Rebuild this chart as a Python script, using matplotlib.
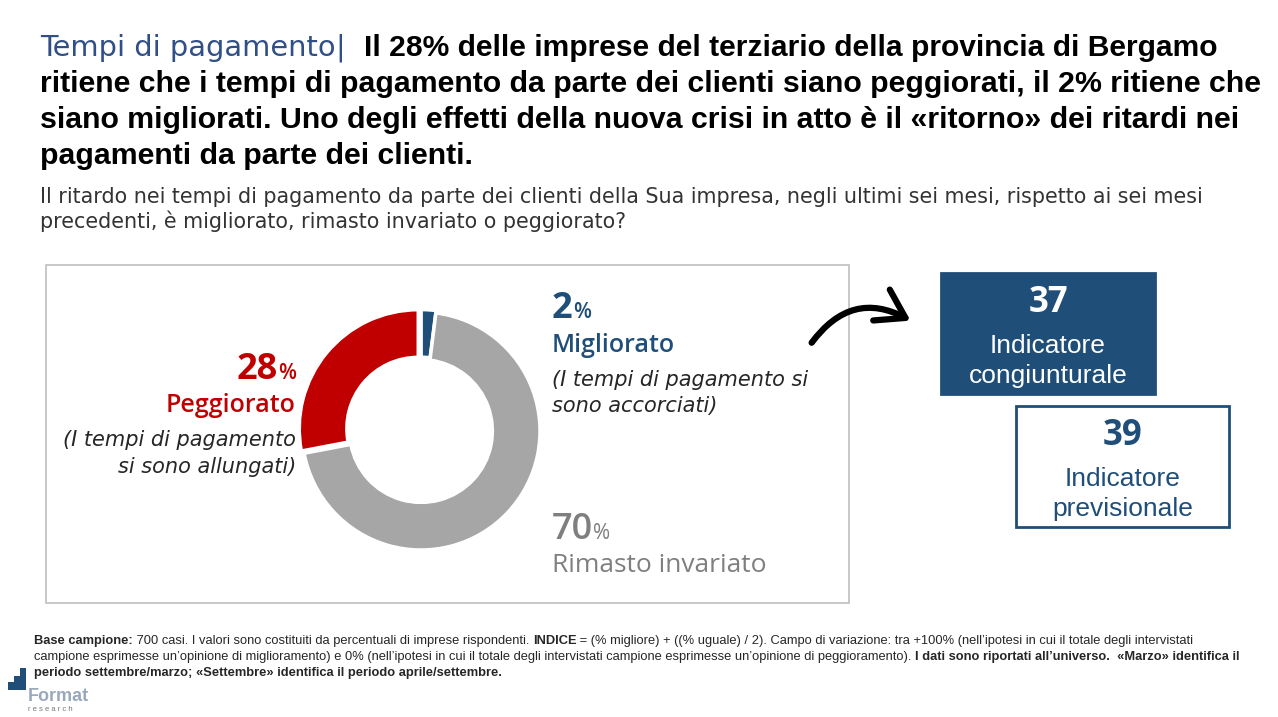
import matplotlib.pyplot as plt
from matplotlib.patches import Rectangle, FancyArrowPatch, Polygon

W, H = 1278, 717

# data
labels = ['Migliorato', 'Rimasto invariato', 'Peggiorato']
shares = [2, 70, 28]
colors = ['#1F4E79', '#A6A6A6', '#C00000']
indicators = [37, 39]
indicator_names = ['Indicatore\ncongiunturale', 'Indicatore\nprevisionale']

BLUE = '#1F4E79'
LAB = 'Open Sans'
plt.rcParams['font.family'] = ['Liberation Sans', 'DejaVu Sans']

fig = plt.figure(figsize=(W / 100, H / 100), dpi=100)
renderer = fig.canvas.get_renderer()


def fx(x):
    return x / W


def fy(y):
    return 1 - y / H


def runs(x, y, parts, **kw):
    # draw text pieces one after the other on the same baseline
    for txt, style in parts:
        opts = dict(kw)
        opts.update(style)
        t = fig.text(fx(x), fy(y), txt, va='baseline', ha='left', **opts)
        x += t.get_window_extent(renderer).width
    return x


# ---- title ----
runs(40, 56, [('Tempi di pagamento', dict(color='#2F4F86', family='DejaVu Sans', fontsize=20.8)),
              ('|  ', dict(color='#2F4F86', family='DejaVu Sans', fontsize=20.8)),
              ('Il 28% delle imprese del terziario della provincia di Bergamo',
               dict(color='black', weight='bold'))], fontsize=21.6)
for i, line in enumerate(['ritiene che i tempi di pagamento da parte dei clienti siano peggiorati, il 2% ritiene che',
                          'siano migliorati. Uno degli effetti della nuova crisi in atto è il «ritorno» dei ritardi nei',
                          'pagamenti da parte dei clienti.']):
    fig.text(fx(40), fy(92 + i * 36), line, fontsize=21.8, weight='bold', va='baseline')

fig.text(fx(40), fy(203), 'Il ritardo nei tempi di pagamento da parte dei clienti della Sua impresa, negli ultimi sei mesi, rispetto ai sei mesi',
         fontsize=14.9, color='#333333', va='baseline', family='DejaVu Sans')
fig.text(fx(40), fy(228), 'precedenti, è migliorato, rimasto invariato o peggiorato?',
         fontsize=14.9, color='#333333', va='baseline', family='DejaVu Sans')

# ---- frame around the donut ----
fig.add_artist(Rectangle((fx(46), fy(603)), fx(849 - 46), (603 - 265) / H,
                         transform=fig.transFigure, fill=False, ec='#BFBFBF', lw=1.2))

# ---- donut ----
cx, cy, r = 421, 431, 119
ax = fig.add_axes([fx(cx - r), fy(cy + r), 2 * r / W, 2 * r / H])
ax.pie(shares, colors=colors, startangle=90, counterclock=False,
       explode=[0.02, 0, 0.03], radius=1,
       wedgeprops=dict(width=0.4, edgecolor='white', linewidth=2.5))
ax.set_xlim(-1, 1)
ax.set_ylim(-1, 1)
ax.set_aspect('auto')
ax.axis('off')

# ---- labels around donut ----
ital = dict(fontsize=15, style='italic', color='#262626', va='baseline', family='DejaVu Sans')
runs(552, 318, [('2', dict(fontsize=26, weight='bold')), ('%', dict(fontsize=15, weight='semibold'))],
     color=BLUE, family=LAB)
fig.text(fx(552), fy(352), labels[0], fontsize=18, weight='semibold', color=BLUE, va='baseline', family=LAB)
fig.text(fx(552), fy(386), '(I tempi di pagamento si', **ital)
fig.text(fx(552), fy(412), 'sono accorciati)', **ital)

t1 = fig.text(fx(296), fy(379), '%', fontsize=15, weight='semibold', color='#C00000', ha='right',
              va='baseline', family=LAB)
w1 = t1.get_window_extent(renderer).width
fig.text(fx(296 - w1), fy(379), '28', fontsize=26, weight='bold', color='#C00000', ha='right',
         va='baseline', family=LAB)
fig.text(fx(296), fy(412), labels[2], fontsize=18, weight='semibold', color='#C00000', ha='right',
         va='baseline', family=LAB)
fig.text(fx(296), fy(446), '(I tempi di pagamento', ha='right', **ital)
fig.text(fx(296), fy(473), 'si sono allungati)', ha='right', **ital)

runs(552, 539, [('70', dict(fontsize=26, weight='semibold')), ('%', dict(fontsize=15))],
     color='#7F7F7F', family=LAB)
fig.text(fx(552), fy(572), labels[1], fontsize=19, color='#7F7F7F', va='baseline', family=LAB)

# ---- arrow ----
fig.add_artist(FancyArrowPatch((fx(810), fy(345)), (fx(913), fy(322)), transform=fig.transFigure,
                               connectionstyle='arc3,rad=-0.45',
                               arrowstyle='->,head_length=0.7,head_width=0.45',
                               mutation_scale=28, lw=4.5, color='black', capstyle='round'))

# ---- indicator boxes ----
boxes = [(941, 273, 1155, 394, True), (1016, 406, 1229, 527, False)]
for (x0, y0, x1, y1, filled), val, name in zip(boxes, indicators, indicator_names):
    fig.add_artist(Rectangle((fx(x0), fy(y1)), (x1 - x0) / W, (y1 - y0) / H,
                             transform=fig.transFigure, fc=BLUE if filled else 'white',
                             ec=BLUE, lw=2))
    tc = 'white' if filled else BLUE
    xm = (x0 + x1) / 2
    fig.text(fx(xm), fy(y0 + 30), str(val), fontsize=25, weight='bold', color=tc, ha='center',
             va='center', family=LAB)
    fig.text(fx(xm), fy(y0 + 88), name, fontsize=19, color=tc, ha='center', va='center', linespacing=1.3)

# ---- footnote ----
fs = 9.3
runs(34, 644, [('Base campione:', dict(weight='bold')),
               (' 700 casi. I valori sono costituiti da percentuali di imprese rispondenti. ', {}),
               ('INDICE', dict(weight='bold')),
               (' = (% migliore) + ((% uguale) / 2). Campo di variazione: tra +100% (nell\u2019ipotesi in cui il totale degli intervistati', {})],
     fontsize=fs, color='#262626')
runs(34, 660, [('campione esprimesse un\u2019opinione di miglioramento) e 0% (nell\u2019ipotesi in cui il totale degli intervistati campione esprimesse un\u2019opinione di peggioramento). ', {}),
               ('I dati sono riportati all\u2019universo.  \u00abMarzo\u00bb identifica il', dict(weight='bold'))],
     fontsize=fs, color='#262626')
runs(34, 676, [('periodo settembre/marzo; \u00abSettembre\u00bb identifica il periodo aprile/settembre.', dict(weight='bold'))],
     fontsize=fs, color='#262626')

# ---- logo ----
step = [(8, 690), (8, 682), (14, 682), (14, 676), (20, 676), (20, 668), (26, 668), (26, 690)]
fig.add_artist(Polygon([(fx(a), fy(b)) for a, b in step], closed=True, transform=fig.transFigure,
                       fc=BLUE, ec='none'))
fig.text(fx(28), fy(701), 'Format', fontsize=13, weight='bold', color='#9AA8BC', va='baseline')
fig.text(fx(28), fy(711), 'r e s e a r c h', fontsize=5.5, color='#777777', va='baseline')

fig.savefig('out.png', dpi=100)
